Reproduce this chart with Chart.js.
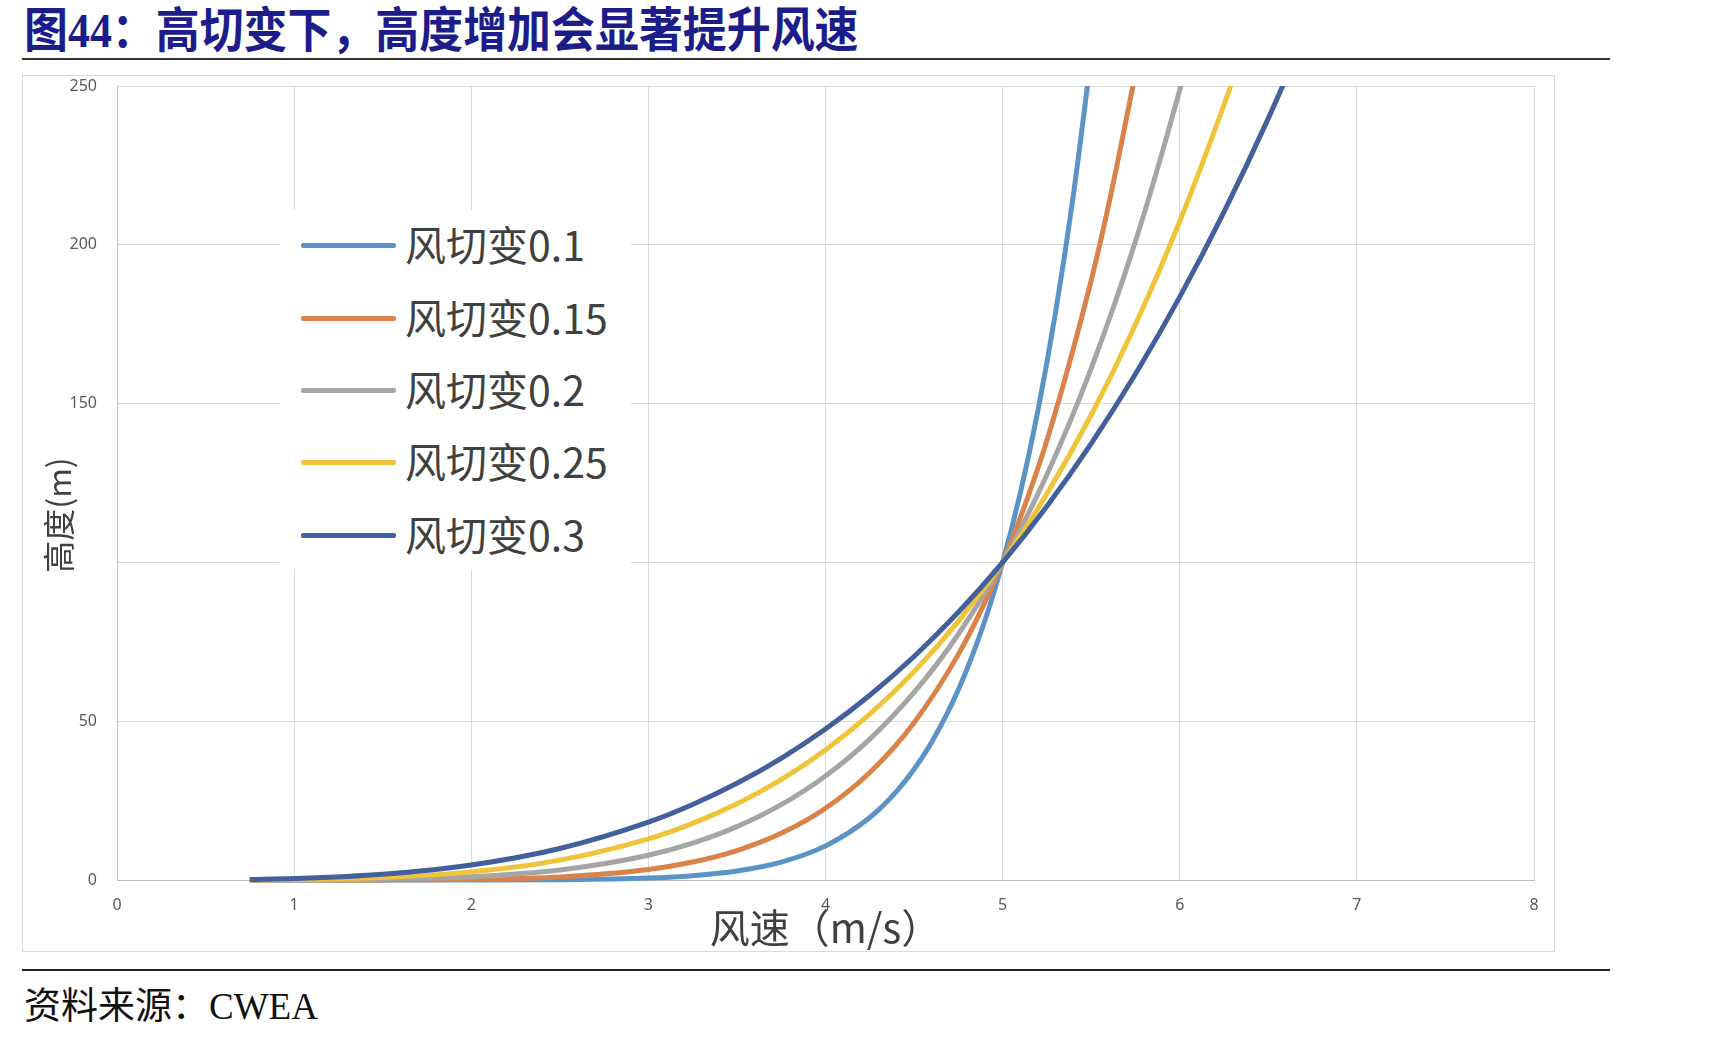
<!DOCTYPE html>
<html>
<head>
<meta charset="utf-8">
<script src="https://cdn.jsdelivr.net/npm/chart.js@4.4.1/dist/chart.umd.min.js"></script>
<style>
  html, body { margin: 0; padding: 0; background: #ffffff; }
  body { width: 1735px; height: 1039px; position: relative; overflow: hidden; }
  #title { position: absolute; left: 24px; top: 4px; height: 54px; line-height: 54px;
    font-family: "Liberation Serif", "Noto Sans CJK SC", serif; font-weight: bold; font-size: 48px;
    color: #1c1c8a; white-space: nowrap; transform: scaleX(0.915); transform-origin: 0 50%; }
  #titleRule { position: absolute; left: 22px; top: 58px; width: 1588px; height: 2px; background: #333; }
  #frame { position: absolute; left: 22px; top: 75px; width: 1533px; height: 877px;
    box-sizing: border-box; border: 1px solid #d9d9d9; }
  #wrap { position: absolute; left: 22px; top: 75px; width: 1533px; height: 877px; }
  #legend { position: absolute; left: 279px; top: 210px; width: 352px; height: 360px; background: #fff; }
  .item { position: absolute; left: 0; height: 60px; width: 352px; }
  .swatch { position: absolute; left: 22px; top: 27px; width: 95px; height: 5px; border-radius: 2px; }
  .label { position: absolute; left: 126px; top: -3px; height: 60px; line-height: 60px;
    font-family: "Noto Sans CJK SC", sans-serif; font-size: 41px; color: #404040; white-space: nowrap; }
  #footRule { position: absolute; left: 22px; top: 969px; width: 1588px; height: 2px; background: #222; }
  #source { position: absolute; left: 24px; top: 985px; height: 44px; line-height: 44px;
    font-family: "Liberation Serif", "Noto Sans CJK SC", serif; font-size: 37px; color: #111; white-space: nowrap; }
</style>
</head>
<body>
<div id="title">图44：高切变下，高度增加会显著提升风速</div>
<div id="titleRule"></div>
<div id="frame"></div>
<div id="wrap"><canvas id="c"></canvas></div>
<div id="legend"></div>
<div id="footRule"></div>
<div id="source">资料来源：CWEA</div>
<script>
// ---- data (wind speed m/s -> height m) ----
const seriesNames = ['风切变0.1', '风切变0.15', '风切变0.2', '风切变0.25', '风切变0.3'];

const speeds01  = [0.75, 1, 1.5, 2, 2.5, 3, 3.25, 3.5, 3.75, 4, 4.25, 4.4, 4.5, 4.6, 4.75, 4.9, 5, 5.1, 5.2, 5.3, 5.4, 5.5];
const heights01 = [0, 0, 0, 0.01, 0.1, 0.6, 1.35, 2.82, 5.63, 10.74, 19.69, 27.85, 34.87, 43.44, 59.87, 81.71, 100, 121.9, 148.0, 179.1, 215.9, 259.4];

const speeds015  = [0.75, 1, 1.5, 2, 2.5, 3, 3.25, 3.5, 3.75, 4, 4.25, 4.5, 4.75, 4.9, 5, 5.1, 5.25, 5.5, 5.6, 5.75];
const heights015 = [0, 0, 0.03, 0.22, 0.98, 3.32, 5.66, 9.27, 14.69, 22.59, 33.84, 49.54, 71.04, 87.4, 100, 114.1, 138.4, 188.8, 212.9, 253.9];

const speeds02  = [0.75, 1, 1.5, 2, 2.5, 3, 3.25, 3.5, 3.75, 4, 4.25, 4.5, 4.75, 5, 5.25, 5.5, 5.75, 6, 6.1];
const heights02 = [0.01, 0.03, 0.24, 1.02, 3.13, 7.78, 11.6, 16.81, 23.73, 32.77, 44.37, 59.05, 77.38, 100, 127.6, 161.1, 201.1, 248.8, 270.3];

const speeds025  = [0.75, 1, 1.5, 2, 2.5, 3, 3.25, 3.5, 3.75, 4, 4.25, 4.5, 4.75, 5, 5.25, 5.5, 5.75, 6, 6.25, 6.4];
const heights025 = [0.05, 0.16, 0.81, 2.56, 6.25, 12.96, 17.85, 24.01, 31.64, 40.96, 52.2, 65.61, 81.45, 100, 121.6, 146.4, 174.9, 207.4, 244.1, 268.4];

const speeds03  = [0.75, 1, 1.5, 2, 2.5, 3, 3.25, 3.5, 3.75, 4, 4.25, 4.5, 4.75, 5, 5.25, 5.5, 5.75, 6, 6.25, 6.5, 6.75];
const heights03 = [0.18, 0.47, 1.81, 4.72, 9.92, 18.22, 23.79, 30.45, 38.33, 47.53, 58.18, 70.38, 84.28, 100, 117.7, 137.4, 159.3, 183.6, 210.4, 239.8, 271.9];

const xTickLabels = ['0', '1', '2', '3', '4', '5', '6', '7', '8'];
const yTickLabels = ['0', '50', '', '150', '200', '250'];
const xAxisTitle = '风速（m/s）';
const yAxisTitle = '高度(m)\u3000\u3000';

// ---- styles ----
const seriesColors = ['#5b93c7', '#d9824a', '#a5a5a5', '#efc43a', '#41609c'];
const allSpeeds = [speeds01, speeds015, speeds02, speeds025, speeds03];
const allHeights = [heights01, heights015, heights02, heights025, heights03];

const datasets = seriesNames.map((name, i) => ({
  label: name,
  data: allSpeeds[i].map((x, k) => ({ x: x, y: allHeights[i][k] })),
  borderColor: seriesColors[i],
  backgroundColor: seriesColors[i],
  borderWidth: 5,
  pointRadius: 0,
  fill: false,
  cubicInterpolationMode: 'monotone',
  order: seriesNames.length - 1 - i,
  clip: { left: 6, right: 0, top: 0, bottom: 6 }
}));

const tickFont = { family: '"Noto Sans", "Open Sans", sans-serif', size: 16 };

new Chart(document.getElementById('c'), {
  type: 'scatter',
  data: { datasets: datasets },
  options: {
    responsive: true,
    maintainAspectRatio: false,
    animation: false,
    showLine: true,
    layout: { padding: { left: 0, top: 11, right: 21, bottom: 0 } },
    plugins: { legend: { display: false }, tooltip: { enabled: false } },
    scales: {
      x: {
        type: 'linear', min: 0, max: 8,
        afterFit: (s) => { s.height = 72; s.paddingLeft = 0; s.paddingRight = 0; },
        ticks: { stepSize: 1, color: '#595959', font: tickFont, padding: 16,
          callback: (v, idx) => xTickLabels[idx] },
        grid: { color: '#d9d9d9', lineWidth: 1, drawTicks: false },
        border: { color: '#bfbfbf', width: 1 },
        title: { display: true, text: xAxisTitle, color: '#404040',
          font: { family: '"Noto Sans CJK SC", sans-serif', size: 40 }, padding: { top: 0, bottom: 0 } }
      },
      y: {
        type: 'linear', min: 0, max: 250,
        afterFit: (s) => { s.width = 95; s.paddingTop = 0; s.paddingBottom = 0; },
        ticks: { stepSize: 50, color: '#595959', font: tickFont, padding: 20,
          callback: (v, idx) => yTickLabels[idx] },
        grid: { color: '#d9d9d9', lineWidth: 1, drawTicks: false },
        border: { color: '#bfbfbf', width: 1 },
        title: { display: true, text: yAxisTitle, color: '#404040',
          font: { family: '"Noto Sans CJK SC", sans-serif', size: 32 }, padding: { top: 18, bottom: 0 } }
      }
    }
  }
});

// HTML legend built from the series
const legend = document.getElementById('legend');
const rowCenters = [36, 109, 181, 253, 326];
seriesNames.forEach((name, i) => {
  const item = document.createElement('div');
  item.className = 'item';
  item.style.top = (rowCenters[i] - 30) + 'px';
  const sw = document.createElement('div');
  sw.className = 'swatch';
  sw.style.background = seriesColors[i];
  const lb = document.createElement('div');
  lb.className = 'label';
  lb.textContent = name;
  item.appendChild(sw);
  item.appendChild(lb);
  legend.appendChild(item);
});
</script>
</body>
</html>
